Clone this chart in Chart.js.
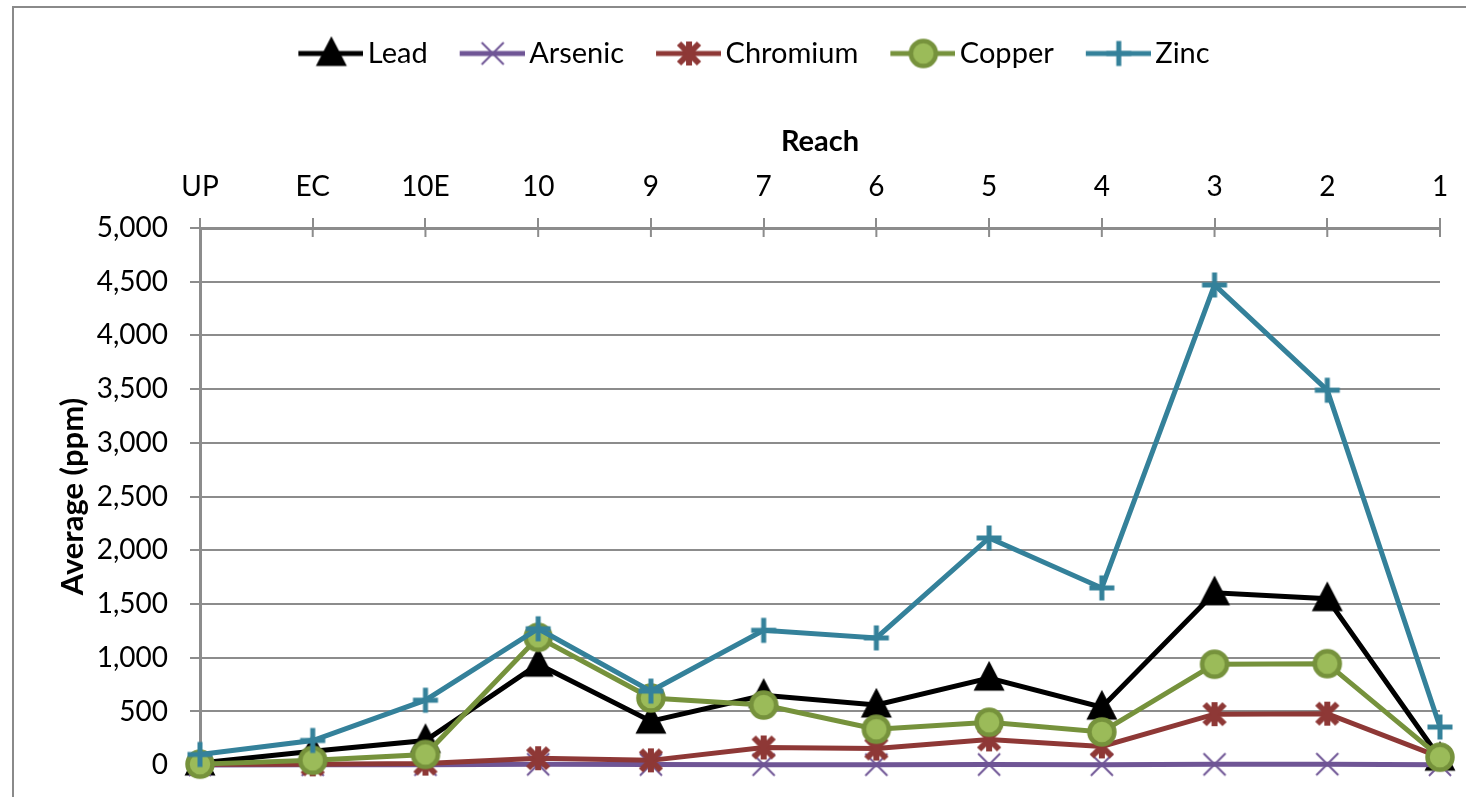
<!DOCTYPE html>
<html>
<head>
<meta charset="utf-8">
<script src="https://cdn.jsdelivr.net/npm/chart.js@4.4.0/dist/chart.umd.min.js"></script>
<style>
  html, body { margin: 0; padding: 0; background: #fff; overflow: hidden; }
  #frame { position: absolute; left: 12px; top: 6px; width: 1500px; height: 820px;
           border-left: 2px solid #8a8a8a; border-top: 2px solid #8a8a8a; }
  #chart { display: block; }
</style>
</head>
<body>
<div id="frame"><canvas id="chart" width="1478" height="796"></canvas></div>
<script>
// Reach categories, upstream to downstream
const reaches = ['UP', 'EC', '10E', '10', '9', '7', '6', '5', '4', '3', '2', '1'];

// Average concentrations (ppm)
const lead     = [20, 130, 230, 940, 410, 650, 560, 810, 540, 1605, 1550, 65];
const arsenic  = [3, 4, 5, 8, 6, 5, 5, 6, 5, 8, 10, 4];
const chromium = [10, 8, 15, 65, 45, 165, 155, 240, 175, 475, 480, 75];
const copper   = [10, 45, 100, 1190, 625, 560, 335, 400, 310, 940, 945, 75];
const zinc     = [100, 230, 605, 1270, 690, 1255, 1185, 2115, 1650, 4470, 3490, 355];

// y axis ticks
const yMin = 0;
const yMax = 5000;
const yStep = 500;

const GRID = '#8c8c8c';
Chart.defaults.font.family = 'Lato';
Chart.defaults.font.size = 28;
Chart.defaults.color = '#000';

// Marker drawing (Excel style markers)
function drawMarker(g, kind, color, fill) {
    g.strokeStyle = color;
    g.fillStyle = fill || color;
    if (kind === 'triangle') {
        g.beginPath();
        g.moveTo(0, -14);
        g.lineTo(13, 11);
        g.lineTo(-13, 11);
        g.closePath();
        g.fill();
        g.lineWidth = 3;
        g.lineJoin = 'miter';
        g.stroke();
    } else if (kind === 'x') {
        g.lineWidth = 2;
        g.beginPath();
        g.moveTo(-11, -11); g.lineTo(11, 11);
        g.moveTo(11, -11); g.lineTo(-11, 11);
        g.stroke();
    } else if (kind === 'star') {
        g.lineWidth = 6;
        g.beginPath();
        g.moveTo(-10, -10); g.lineTo(10, 10);
        g.moveTo(10, -10); g.lineTo(-10, 10);
        g.moveTo(0, -12); g.lineTo(0, 12);
        g.stroke();
    } else if (kind === 'circle') {
        g.lineWidth = 4.5;
        g.beginPath();
        g.arc(0, 0, 12.5, 0, Math.PI * 2);
        g.fill();
        g.stroke();
    } else if (kind === 'plus') {
        g.lineWidth = 5;
        g.beginPath();
        g.moveTo(-12.5, 0); g.lineTo(12.5, 0);
        g.moveTo(0, -12.5); g.lineTo(0, 12.5);
        g.stroke();
    }
}

function makeMarker(kind, color, fill) {
    const c = document.createElement('canvas');
    c.width = 36; c.height = 36;
    const g = c.getContext('2d');
    g.translate(18, 18);
    drawMarker(g, kind, color, fill);
    return c;
}

// legend icon: line with the marker in the middle
function makeLegendIcon(kind, color, fill) {
    const c = document.createElement('canvas');
    c.width = 87; c.height = 36;
    const g = c.getContext('2d');
    g.strokeStyle = color;
    g.lineWidth = 5;
    g.beginPath();
    g.moveTo(22, 18); g.lineTo(87, 18);
    g.stroke();
    g.translate(55, 18);
    drawMarker(g, kind, color, fill);
    return c;
}

const series = [
    { label: 'Lead', data: lead, color: '#000000', marker: 'triangle' },
    { label: 'Arsenic', data: arsenic, color: '#6f5595', marker: 'x' },
    { label: 'Chromium', data: chromium, color: '#8e3836', marker: 'star' },
    { label: 'Copper', data: copper, color: '#76923c', fill: '#9bbb59', marker: 'circle' },
    { label: 'Zinc', data: zinc, color: '#34819a', marker: 'plus' }
];

const datasets = series.map((s, i) => ({
    label: s.label,
    data: s.data,
    borderColor: s.color,
    backgroundColor: s.fill || s.color,
    borderWidth: 5,
    pointStyle: makeMarker(s.marker, s.color, s.fill),
    pointRadius: 14,
    legendIcon: makeLegendIcon(s.marker, s.color, s.fill),
    order: series.length - i,   // later series drawn on top
    clip: false,
    tension: 0
}));

// Excel "cross" tick marks: also draw the x ticks below the top axis line
const crossTicks = {
    id: 'crossTicks',
    afterDatasetsDraw(chart) {
        const x = chart.scales.x;
        const g = chart.ctx;
        g.save();
        g.strokeStyle = GRID;
        g.lineWidth = 2;
        g.beginPath();
        x.ticks.forEach((t, i) => {
            const px = x.getPixelForTick(i);
            g.moveTo(px, chart.chartArea.top);
            g.lineTo(px, chart.chartArea.top + 9);
        });
        g.stroke();
        g.restore();
    }
};

// nudge the legend row to where the original sits
const legendShift = {
    id: 'legendShift',
    afterLayout(chart) {
        chart.legend.left += 6;
        chart.legend.right += 6;
    }
};

const ctx = document.getElementById('chart').getContext('2d');
new Chart(ctx, {
    type: 'line',
    data: { labels: reaches, datasets: datasets },
    plugins: [crossTicks, legendShift],
    options: {
        responsive: false,
        animation: false,
        events: [],
        layout: { padding: { top: 11, left: 30, right: 52, bottom: 34 } },
        plugins: {
            tooltip: { enabled: false },
            legend: {
                position: 'top',
                labels: {
                    usePointStyle: true,
                    pointStyleWidth: 67,
                    padding: 20,
                    color: '#000',
                    font: { size: 29 },
                    generateLabels: (chart) => chart.data.datasets.map((ds, i) => ({
                        text: ds.label,
                        datasetIndex: i,
                        pointStyle: ds.legendIcon,
                        fillStyle: ds.borderColor,
                        strokeStyle: ds.borderColor,
                        lineWidth: 0,
                        hidden: false
                    }))
                }
            }
        },
        scales: {
            x: {
                type: 'category',
                position: 'top',
                offset: false,
                afterFit: (s) => { s.height = 150; },
                title: {
                    display: true,
                    text: 'Reach',
                    font: { size: 29, weight: 'bold' },
                    padding: { top: 46, bottom: 0 }
                },
                ticks: { padding: 14, maxRotation: 0, autoSkip: false, color: '#000' },
                grid: { display: true, drawOnChartArea: false, tickLength: 10, color: GRID, lineWidth: 2 },
                border: { display: true, color: GRID, width: 3 }
            },
            y: {
                min: yMin,
                max: yMax,
                afterFit: (s) => { s.width = 156; },
                title: {
                    display: true,
                    text: 'Average (ppm)',
                    font: { size: 31, weight: 'bold' },
                    padding: { top: 10, bottom: 0 }
                },
                ticks: {
                    stepSize: yStep,
                    padding: 22,
                    color: '#000',
                    callback: (v) => v.toLocaleString('en-US')
                },
                grid: { color: GRID, lineWidth: 2, tickLength: 10 },
                border: { display: true, color: GRID, width: 3 }
            }
        }
    }
});
</script>
</body>
</html>
